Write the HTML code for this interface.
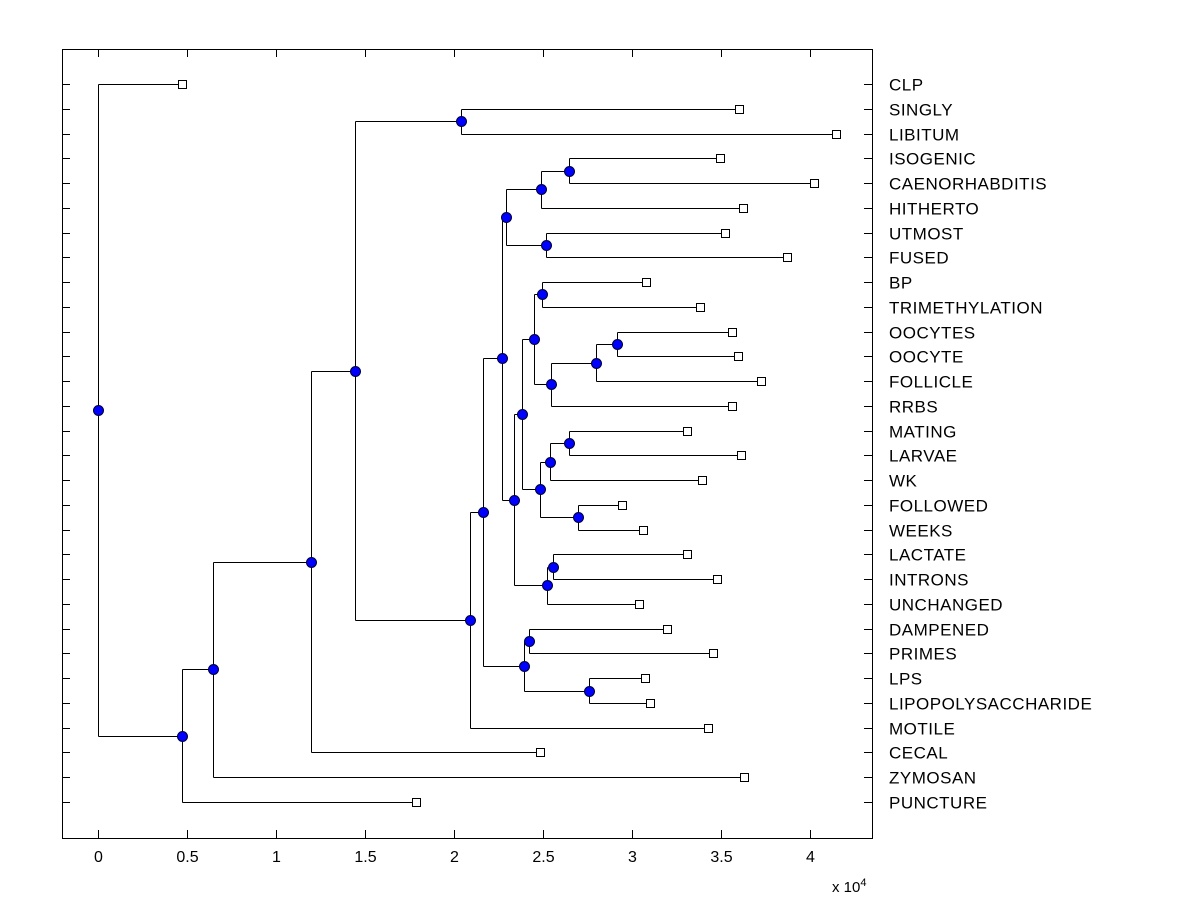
<!DOCTYPE html>
<html><head><meta charset="utf-8"><style>
body{margin:0;background:#fff;}
svg text{font-family:"Liberation Sans",Arial,sans-serif;}
</style></head><body>
<svg id="chart" width="1200" height="900" xmlns="http://www.w3.org/2000/svg">
<rect x="0" y="0" width="1200" height="900" fill="#fff"/>
<g id="marks"></g>
</svg>
<script>
const leafNames = ["CLP","SINGLY","LIBITUM","ISOGENIC","CAENORHABDITIS","HITHERTO","UTMOST","FUSED","BP","TRIMETHYLATION","OOCYTES","OOCYTE","FOLLICLE","RRBS","MATING","LARVAE","WK","FOLLOWED","WEEKS","LACTATE","INTRONS","UNCHANGED","DAMPENED","PRIMES","LPS","LIPOPOLYSACCHARIDE","MOTILE","CECAL","ZYMOSAN","PUNCTURE"];
const leafDist = [0.472,3.601,4.146,3.494,4.022,3.624,3.522,3.871,3.079,3.382,3.562,3.596,3.725,3.562,3.309,3.612,3.393,2.944,3.062,3.309,3.478,3.039,3.197,3.455,3.073,3.101,3.427,2.483,3.629,1.787];
const nodeNames = ["nS","nE","nC","nD","nA","nN","nM","nL","nK","nI","nQ","nO","nP","nJ","nF","nH","nG","nB","n7","n9","n10","n8","n6","n5","n4","n3","n2","n1","root"];
const nodeDist = [2.039,2.646,2.489,2.517,2.292,2.916,2.798,2.545,2.494,2.449,2.646,2.539,2.697,2.483,2.382,2.556,2.522,2.337,2.270,2.421,2.758,2.393,2.163,2.090,1.444,1.197,0.646,0.472,0];
const nodeKids = [["SINGLY","LIBITUM"],["ISOGENIC","CAENORHABDITIS"],["nE","HITHERTO"],["UTMOST","FUSED"],["nC","nD"],["OOCYTES","OOCYTE"],["nN","FOLLICLE"],["nM","RRBS"],["BP","TRIMETHYLATION"],["nK","nL"],["MATING","LARVAE"],["nQ","WK"],["FOLLOWED","WEEKS"],["nO","nP"],["nI","nJ"],["LACTATE","INTRONS"],["nH","UNCHANGED"],["nF","nG"],["nA","nB"],["DAMPENED","PRIMES"],["LPS","LIPOPOLYSACCHARIDE"],["n9","n10"],["n7","n8"],["n6","MOTILE"],["nS","n5"],["n4","CECAL"],["n3","ZYMOSAN"],["n2","PUNCTURE"],["CLP","n1"]];
const xTicks = [0,0.5,1,1.5,2,2.5,3,3.5,4];
const xTickLabels = ["0","0.5","1","1.5","2","2.5","3","3.5","4"];

const L=62,R=872,T=49,B=838;
const xs = v => 98 + v*178;
const ys = i => 84 + i*(802-84)/(leafNames.length-1);
const NS="http://www.w3.org/2000/svg";
const g=document.getElementById('marks');
function mk(tag,attrs){const e=document.createElementNS(NS,tag);for(const k in attrs)e.setAttribute(k,attrs[k]);g.appendChild(e);return e;}

const pos={};
leafNames.forEach((n,i)=>{pos[n]={x:xs(leafDist[i]),y:ys(i)};});
function getPos(n){
  if(pos[n])return pos[n];
  const i=nodeNames.indexOf(n);
  const ks=nodeKids[i].map(getPos);
  pos[n]={x:xs(nodeDist[i]),y:(ks[0].y+ks[1].y)/2};
  return pos[n];
}
nodeNames.forEach(getPos);

let box=mk('rect',{x:L+0.5,y:T+0.5,width:R-L,height:B-T,fill:'none',stroke:'#000','stroke-width':1});


xTicks.forEach((t,i)=>{
  const x=Math.round(xs(t))+0.5;
  let a=mk('line',{x1:x,x2:x,y1:B,y2:B-8,stroke:'#000'});
  
  
  let b=mk('line',{x1:x,x2:x,y1:T,y2:T+8,stroke:'#000'});
  
  
  let tx=mk('text',{x:x,y:B+24,'font-size':16,'text-anchor':'middle'});
  tx.textContent=xTickLabels[i];
  
  
});
let ex=mk('text',{x:832,y:892,'font-size':15});
ex.innerHTML='x 10<tspan dy="-6" font-size="11">4</tspan>';



nodeNames.forEach((n,i)=>{
  const p=pos[n];const ks=nodeKids[i].map(k=>pos[k]);
  const px=Math.round(p.x)+0.5;
  let v=mk('line',{x1:px,x2:px,y1:Math.round(ks[0].y)+0.5,y2:Math.round(ks[1].y)+0.5,stroke:'#000'});
  
  
  ks.forEach(k=>{
    const yy=Math.round(k.y)+0.5;
    let h=mk('line',{x1:px,x2:Math.round(k.x)+0.5,y1:yy,y2:yy,stroke:'#000'});
    
    
  });
});
leafNames.forEach((n,i)=>{
  const p=pos[n];const y=Math.round(p.y)+0.5;
  let t1=mk('line',{x1:L,x2:L+8,y1:y,y2:y,stroke:'#000'});
  
  
  let t2=mk('line',{x1:R-8,x2:R,y1:y,y2:y,stroke:'#000'});
  
  
  let s=mk('rect',{x:Math.round(p.x)-3.5,y:y-4,width:8,height:8,fill:'#fff',stroke:'#000'});
  
  
  let tx=mk('text',{x:889,y:y+6,'font-size':17,'letter-spacing':0.5});
  tx.textContent=n;
  
  
});
nodeNames.forEach(n=>{
  const p=pos[n];
  let c=mk('circle',{cx:Math.round(p.x)+0.5,cy:Math.round(p.y)+0.5,r:5,fill:'#0000ff',stroke:'#000033','stroke-width':1});
  
  
});
</script>
</body></html>
